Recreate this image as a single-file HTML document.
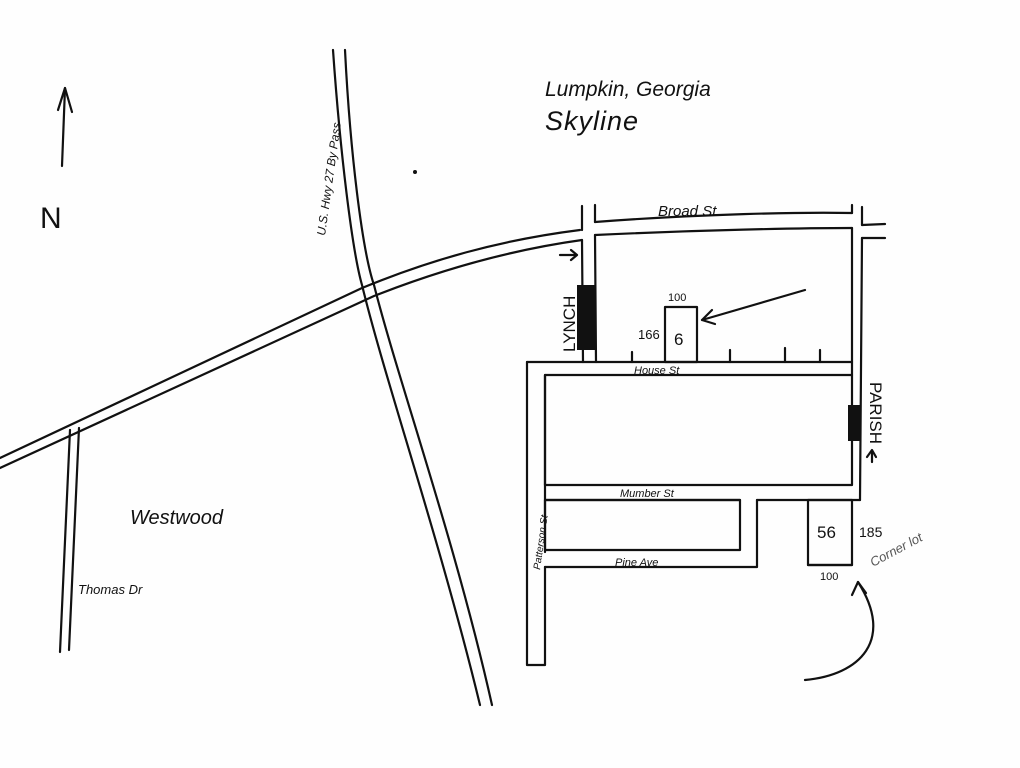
<!DOCTYPE html>
<html><head><meta charset="utf-8"><style>
html,body{margin:0;padding:0;background:#fff;}
svg{display:block}
text{font-family:"Liberation Sans",sans-serif;fill:#111}
</style></head><body>
<svg width="1020" height="768" viewBox="0 0 1020 768" xmlns="http://www.w3.org/2000/svg">
<rect width="1020" height="768" fill="#fefefe"/>
<g fill="none" stroke="#111" stroke-width="2.2" stroke-linecap="round" stroke-linejoin="round">
<!-- north arrow -->
<path d="M62 166 L65 88"/>
<path d="M58 110 L65 88 L72 112"/>
<!-- highway -->
<path d="M333 50 C340 150 352 250 362 285 C385 380 440 540 480 705"/>
<path d="M345 50 C350 150 362 250 374 285 C398 380 455 540 492 705"/>
<!-- Broad st west -->
<path d="M0 458 L362 288 C430 260 500 240 580 230"/>
<path d="M0 468 L374 296 C440 270 510 250 582 240"/>
<!-- Broad st east -->
<path d="M595 222 C700 214 800 212 852 213"/>
<path d="M595 235 C700 230 800 228 852 228"/>
<path d="M862 225 L885 224"/><path d="M862 238 L885 238"/>
<!-- Lynch -->
<path d="M582 206 L582 230"/><path d="M595 205 L595 222"/>
<path d="M582 240 L583 362"/><path d="M595 235 L596 362"/>
<!-- Parish -->
<path d="M852 205 L852 213"/><path d="M862 207 L862 225"/>
<path d="M852 228 L852 375"/><path d="M862 238 L860 500"/>
<!-- House St / block -->
<path d="M527 362 L852 362"/>
<path d="M545 375 L852 375 L852 485 L545 485 Z"/>
<path d="M527 362 L527 665 L545 665 L545 567"/>
<path d="M545 375 L545 485"/>
<!-- Mumber -->
<path d="M545 500 L740 500"/><path d="M757 500 L860 500"/>
<path d="M545 485 L545 552"/>
<rect x="545" y="500" width="195" height="50"/>
<path d="M545 567 L757 567 L757 500"/>
<!-- lot 56 -->
<rect x="808" y="500" width="44" height="65"/>
<path d="M808 565 L852 565"/>
<!-- lot 6 -->
<rect x="665" y="307" width="32" height="55"/>
<path d="M805 290 L702 320"/><path d="M712 310 L702 320 L715 324"/>
<!-- ticks -->
<path d="M632 352 L632 362"/><path d="M730 350 L730 362"/><path d="M785 348 L785 362"/><path d="M820 350 L820 362"/>
<!-- west road -->
<path d="M70 430 L60 652"/><path d="M79 428 L69 650"/>
<!-- curved arrow -->
<path d="M805 680 C860 675 895 640 858 582"/>
<path d="M852 595 L858 582 L866 593"/>
<!-- lynch arrow -->
<path d="M560 255 L576 255"/><path d="M571 250 L577 255 L571 260"/>
<!-- parish arrow -->
<path d="M872 462 L872 452"/><path d="M867 457 L872 450 L876 457"/>
</g>
<rect x="577" y="285" width="18" height="65" fill="#111"/>
<rect x="848" y="405" width="12" height="36" fill="#111"/>
<circle cx="415" cy="172" r="2" fill="#111"/>
<text x="545" y="96" font-size="21" font-style="italic">Lumpkin, Georgia</text>
<text x="545" y="130" font-size="27" font-style="italic" letter-spacing="1">Skyline</text>
<text x="40" y="228" font-size="30">N</text>
<text x="658" y="216" font-size="15" font-style="italic">Broad St</text>
<text transform="translate(325,236) rotate(-82)" font-size="12" font-style="italic">U.S. Hwy 27 By Pass</text>
<text transform="translate(575,352) rotate(-90)" font-size="17">LYNCH</text>
<text transform="translate(870,382) rotate(90)" font-size="17">PARISH</text>
<text x="634" y="374" font-size="11" font-style="italic">House St</text>
<text x="620" y="497" font-size="11" font-style="italic">Mumber St</text>
<text x="615" y="566" font-size="11" font-style="italic">Pine Ave</text>
<text transform="translate(540,570) rotate(-82)" font-size="10" font-style="italic">Patterson St</text>
<text x="668" y="301" font-size="11">100</text>
<text x="638" y="339" font-size="13">166</text>
<text x="674" y="345" font-size="17">6</text>
<text x="817" y="538" font-size="17">56</text>
<text x="859" y="537" font-size="14">185</text>
<text x="820" y="580" font-size="11">100</text>
<text transform="translate(873,567) rotate(-28)" font-size="13" font-style="italic" style="fill:#555">Corner lot</text>
<text x="130" y="524" font-size="20" font-style="italic">Westwood</text>
<text x="78" y="594" font-size="13" font-style="italic">Thomas Dr</text>
</svg>
</body></html>
